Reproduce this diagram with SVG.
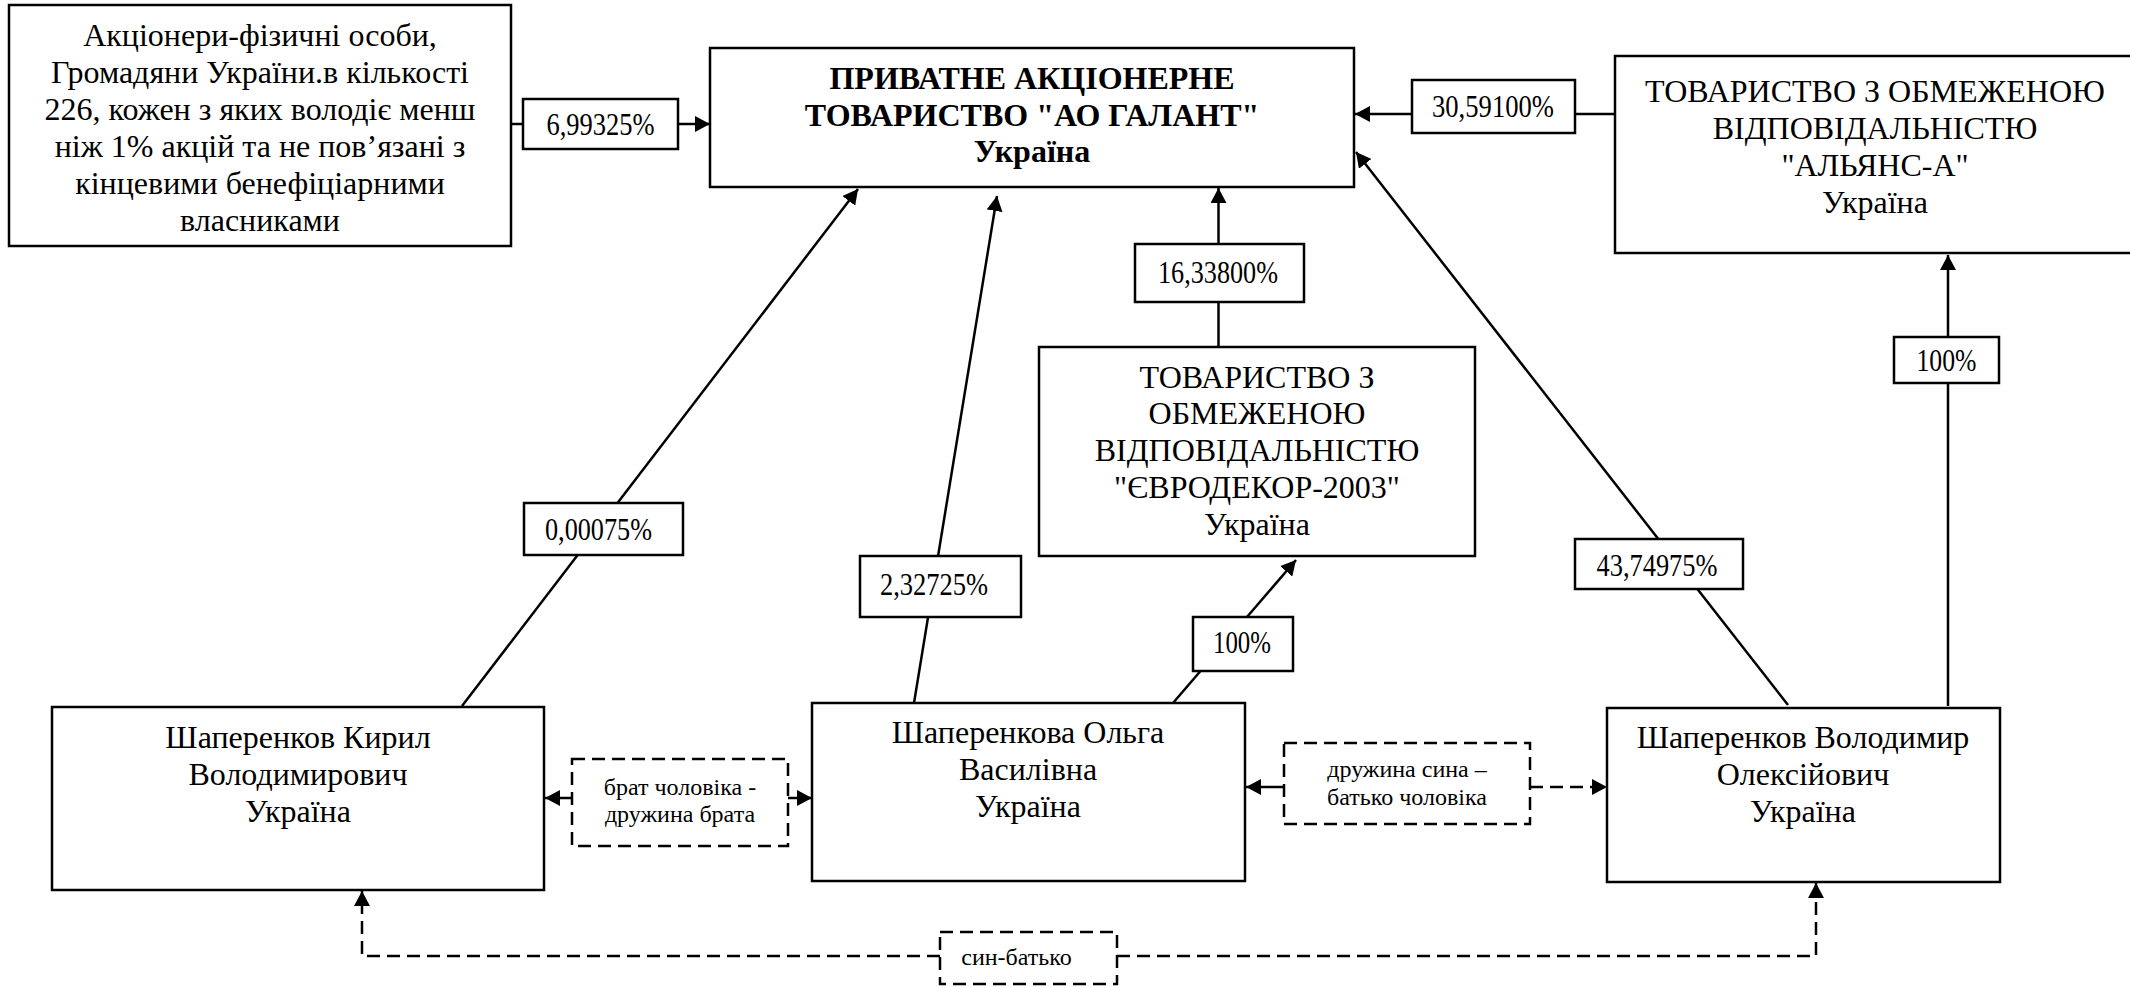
<svg xmlns="http://www.w3.org/2000/svg" width="2130" height="987" viewBox="0 0 2130 987">
<defs>
<style>
.box{fill:#fff;stroke:#000;stroke-width:2.5}
.rel{fill:#fff;stroke:#000;stroke-width:2.5;stroke-dasharray:13 7}
.t{font-family:"Liberation Serif","Times New Roman",serif;font-size:32px;text-anchor:middle;fill:#000}
.b{font-weight:bold}
.p{font-size:31px}
.r{font-size:24px}
.ln{stroke:#000;stroke-width:2.5;fill:none}
.dash{stroke-dasharray:13 7}
</style>
<marker id="ah" markerUnits="userSpaceOnUse" markerWidth="16" markerHeight="16" refX="15" refY="8" orient="auto"><path d="M0,0 L15,8 L0,16 z" fill="#000"/></marker>
</defs>
<rect width="2130" height="987" fill="#fff"/>
<g id="connectors">
<line class="ln" x1="511" y1="124" x2="523" y2="124"/>
<line class="ln" x1="678" y1="124" x2="710" y2="124" marker-end="url(#ah)"/>
<line class="ln" x1="1615" y1="114" x2="1575" y2="114"/>
<line class="ln" x1="1412" y1="114" x2="1355" y2="114" marker-end="url(#ah)"/>
<line class="ln" x1="1218.5" y1="347" x2="1218.5" y2="302"/>
<line class="ln" x1="1218.5" y1="244" x2="1218.5" y2="188" marker-end="url(#ah)"/>
<line class="ln" x1="462" y1="706" x2="858" y2="189" marker-end="url(#ah)"/>
<line class="ln" x1="914" y1="703" x2="997" y2="196" marker-end="url(#ah)"/>
<line class="ln" x1="1173" y1="703" x2="1296" y2="560" marker-end="url(#ah)"/>
<line class="ln" x1="1788" y1="705" x2="1356" y2="152" marker-end="url(#ah)"/>
<line class="ln" x1="1948" y1="706" x2="1948" y2="255" marker-end="url(#ah)"/>
<line class="ln" x1="572" y1="798" x2="545" y2="798" marker-end="url(#ah)"/>
<line class="ln" x1="788" y1="798" x2="812" y2="798" marker-end="url(#ah)"/>
<line class="ln" x1="1284" y1="787" x2="1246" y2="787" marker-end="url(#ah)"/>
<line class="ln dash" x1="1530" y1="787" x2="1607" y2="787" marker-end="url(#ah)"/>
<path class="ln dash" d="M940,956 H362 V891" marker-end="url(#ah)"/>
<path class="ln dash" d="M1117,956 H1816 V883" marker-end="url(#ah)"/>
</g>
<g id="n-shareholders">
<rect class="box" x="9" y="5" width="502" height="241"/>
<text class="t" x="260" y="46">Акціонери-фізичні особи,</text>
<text class="t" x="260" y="83">Громадяни України.в кількості</text>
<text class="t" x="260" y="120">226, кожен з яких володіє менш</text>
<text class="t" x="260" y="157">ніж 1% акцій та не пов’язані з</text>
<text class="t" x="260" y="194">кінцевими бенефіціарними</text>
<text class="t" x="260" y="231">власниками</text>
</g>
<g id="n-galant">
<rect class="box" x="710" y="48" width="644" height="139"/>
<text class="t b" x="1032" y="89">ПРИВАТНЕ АКЦІОНЕРНЕ</text>
<text class="t b" x="1032" y="126">ТОВАРИСТВО "АО ГАЛАНТ"</text>
<text class="t b" x="1032" y="162">Україна</text>
</g>
<g id="n-alliance">
<rect class="box" x="1615" y="56" width="530" height="197"/>
<text class="t" x="1875" y="102">ТОВАРИСТВО З ОБМЕЖЕНОЮ</text>
<text class="t" x="1875" y="139">ВІДПОВІДАЛЬНІСТЮ</text>
<text class="t" x="1875" y="176">"АЛЬЯНС-А"</text>
<text class="t" x="1875" y="213">Україна</text>
</g>
<g id="n-eurodecor">
<rect class="box" x="1039" y="347" width="436" height="209"/>
<text class="t" x="1257" y="388">ТОВАРИСТВО З</text>
<text class="t" x="1257" y="424">ОБМЕЖЕНОЮ</text>
<text class="t" x="1257" y="461">ВІДПОВІДАЛЬНІСТЮ</text>
<text class="t" x="1257" y="498">"ЄВРОДЕКОР-2003"</text>
<text class="t" x="1257" y="535">Україна</text>
</g>
<g id="n-kyrylo">
<rect class="box" x="52" y="707" width="492" height="183"/>
<text class="t" x="298" y="748">Шаперенков Кирил</text>
<text class="t" x="298" y="785">Володимирович</text>
<text class="t" x="298" y="822">Україна</text>
</g>
<g id="n-olga">
<rect class="box" x="812" y="703" width="433" height="178"/>
<text class="t" x="1028" y="743">Шаперенкова Ольга</text>
<text class="t" x="1028" y="780">Василівна</text>
<text class="t" x="1028" y="817">Україна</text>
</g>
<g id="n-volodymyr">
<rect class="box" x="1607" y="708" width="393" height="174"/>
<text class="t" x="1803" y="748">Шаперенков Володимир</text>
<text class="t" x="1803" y="785">Олексійович</text>
<text class="t" x="1803" y="822">Україна</text>
</g>
<g id="l-699">
<rect class="box" x="523" y="99" width="155" height="50"/>
<text class="t p" x="600.5" y="135" textLength="108" lengthAdjust="spacingAndGlyphs">6,99325%</text>
</g>
<g id="l-3059">
<rect class="box" x="1412" y="80" width="163" height="53"/>
<text class="t p" x="1493" y="117" textLength="122" lengthAdjust="spacingAndGlyphs">30,59100%</text>
</g>
<g id="l-1633">
<rect class="box" x="1135" y="244" width="169" height="58"/>
<text class="t p" x="1218" y="283" textLength="120" lengthAdjust="spacingAndGlyphs">16,33800%</text>
</g>
<g id="l-000075">
<rect class="box" x="524" y="503" width="159" height="52"/>
<text class="t p" x="598.5" y="540" textLength="107" lengthAdjust="spacingAndGlyphs">0,00075%</text>
</g>
<g id="l-232">
<rect class="box" x="860" y="556" width="161" height="61"/>
<text class="t p" x="934" y="595" textLength="108" lengthAdjust="spacingAndGlyphs">2,32725%</text>
</g>
<g id="l-100a">
<rect class="box" x="1193" y="617" width="100" height="54"/>
<text class="t p" x="1242" y="653" textLength="58" lengthAdjust="spacingAndGlyphs">100%</text>
</g>
<g id="l-4374">
<rect class="box" x="1575" y="539" width="168" height="50"/>
<text class="t p" x="1657" y="576" textLength="121" lengthAdjust="spacingAndGlyphs">43,74975%</text>
</g>
<g id="l-100b">
<rect class="box" x="1894" y="337" width="105" height="46"/>
<text class="t p" x="1946.5" y="371" textLength="60" lengthAdjust="spacingAndGlyphs">100%</text>
</g>
<g id="r-brother">
<rect class="rel" x="572" y="759" width="216" height="87"/>
<text class="t r" x="680" y="795">брат чоловіка -</text>
<text class="t r" x="680" y="822">дружина брата</text>
</g>
<g id="r-inlaw">
<rect class="rel" x="1284" y="743" width="246" height="81"/>
<text class="t r" x="1407" y="777">дружина сина –</text>
<text class="t r" x="1407" y="805">батько чоловіка</text>
</g>
<g id="r-sonfather">
<rect class="rel" x="940" y="932" width="177" height="52"/>
<text class="t r" x="1016.5" y="965">син-батько</text>
</g>
</svg>
